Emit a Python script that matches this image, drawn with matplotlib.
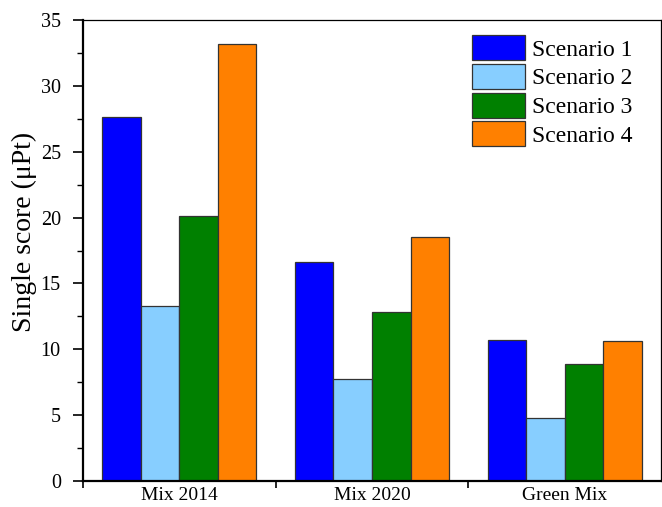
import matplotlib
matplotlib.use("Agg")
import matplotlib.pyplot as plt
import numpy as np
from matplotlib.ticker import MultipleLocator, FixedLocator

plt.rcParams['font.family'] = ['Liberation Serif', 'DejaVu Serif']

categories = ["Mix 2014", "Mix 2020", "Green Mix"]
series_names = ["Scenario 1", "Scenario 2", "Scenario 3", "Scenario 4"]
scenario1 = [27.6, 16.6, 10.7]
scenario2 = [13.3, 7.75, 4.75]
scenario3 = [20.1, 12.8, 8.85]
scenario4 = [33.15, 18.5, 10.6]
colors = ["#0000FF", "#87CEFF", "#008000", "#FF8000"]

series = [scenario1, scenario2, scenario3, scenario4]

fig = plt.figure(figsize=(6.62, 5.07), dpi=100)
ax = fig.add_axes([83/662, (507-481)/507, (661-83)/662, (481-20)/507])

x = np.arange(len(categories))
w = 0.2
for i, (vals, name, c) in enumerate(zip(series, series_names, colors)):
    ax.bar(x + (i - 1.5) * w, vals, width=w, color=c, edgecolor="#333333",
           linewidth=0.9, label=name)

ax.set_xlim(-0.5, 2.5)
ax.set_ylim(0, 35)
ax.set_xticks(x)
ax.set_xticklabels(categories, fontsize=14)
ax.xaxis.set_minor_locator(FixedLocator([-0.5, 0.5, 1.5]))
ax.tick_params(axis='x', which='major', length=0, pad=4)
ax.tick_params(axis='x', which='minor', length=5, width=1.2, direction='out')
ax.yaxis.set_major_locator(MultipleLocator(5))
ax.yaxis.set_minor_locator(MultipleLocator(2.5))
ax.tick_params(axis='y', which='major', length=7, width=1.2, direction='out',
               labelsize=14.5, pad=9)
ax.tick_params(axis='y', which='minor', length=4, width=1.0, direction='out')
ax.set_ylabel("Single score (μPt)", fontsize=20)
ax.yaxis.set_label_coords(-0.08, 0.54)

for s in ['left', 'bottom']:
    ax.spines[s].set_linewidth(1.6)
for s in ['top', 'right']:
    ax.spines[s].set_linewidth(0.9)

ax.legend(loc='upper left', bbox_to_anchor=(0.673, 0.967), frameon=False,
          fontsize=17, handlelength=2.25, handleheight=1.25, labelspacing=0.14,
          handletextpad=0.3, borderpad=0, borderaxespad=0)

fig.savefig("out.png", dpi=100)
